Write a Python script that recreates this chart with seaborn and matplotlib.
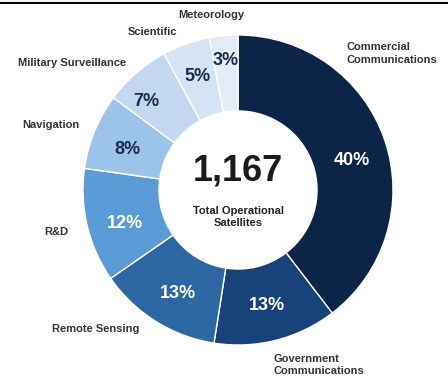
import matplotlib
matplotlib.use("Agg")
import matplotlib.pyplot as plt
import seaborn as sns
import numpy as np
from matplotlib.lines import Line2D

sns.set_theme(style="white")
plt.rcParams['font.family'] = ['Liberation Sans Narrow', 'Liberation Sans', 'DejaVu Sans']

# ---- data ----
categories = ["Commercial\nCommunications", "Government\nCommunications", "Remote Sensing",
              "R&D", "Navigation", "Military Surveillance", "Scientific", "Meteorology"]
shares = [40, 13, 13, 12, 8, 7, 5, 3]
pct_labels = ["40%", "13%", "13%", "12%", "8%", "7%", "5%", "3%"]
total_value = "1,167"
total_caption = "Total Operational\nSatellites"

# ---- style ----
colors = ["#0b2447", "#17427a", "#2c66a3", "#5a9ad6", "#9cc3ea", "#c3d8f0", "#d5e4f5", "#e3edf8"]
pct_colors = ["white", "white", "white", "white", "#1a2a4a", "#1a2a4a", "#1a2a4a", "#1a2a4a"]
pct_radius = [0.76, 0.77, 0.77, 0.76, 0.76, 0.82, 0.78, 0.84]
pct_angle_shift = [-4, 0, 2, 3, 2, 5, 0, 0]
# label anchor (x, y, ha) in pie units
label_pos = [(0.70, 0.88, "left"), (0.23, -1.13, "left"), (-0.92, -0.90, "center"),
             (-1.17, -0.27, "center"), (-1.21, 0.42, "center"), (-1.07, 0.82, "center"),
             (-0.55, 1.02, "center"), (-0.17, 1.13, "center")]

W, H = 448, 383
cx, cy, R = 238, 190, 155
fig = plt.figure(figsize=(W / 100, H / 100), dpi=100)
ax = fig.add_axes([0, 0, 1, 1])

wedges, _ = ax.pie(shares, colors=colors, startangle=90, counterclock=False,
                   radius=1.0, wedgeprops=dict(width=0.49, edgecolor="white", linewidth=1.0))
ax.set_aspect("auto")
ax.set_xlim(-cx / R, (W - cx) / R)
ax.set_ylim(-(H - cy) / R, cy / R)
ax.axis("off")

for w, lab, col, r, da in zip(wedges, pct_labels, pct_colors, pct_radius, pct_angle_shift):
    ang = np.deg2rad((w.theta1 + w.theta2) / 2 + da)
    ax.text(r * np.cos(ang), r * np.sin(ang), lab, ha="center", va="center",
            fontsize=13, fontweight="bold", color=col)

for (x, y, ha), lab in zip(label_pos, categories):
    ax.text(x, y, lab, ha=ha, va="center", fontsize=8, fontweight="bold",
            color="#333333", linespacing=1.3)

ax.text(0, 0.12, total_value, ha="center", va="center", fontsize=26,
        fontweight="bold", color="#1c1c1c")
ax.text(0, -0.175, total_caption, ha="center", va="center", fontsize=8,
        fontweight="bold", color="#222222", linespacing=1.25)

fig.add_artist(Line2D([0, 1], [1 - 2.5 / H] * 2, transform=fig.transFigure,
                      color="black", linewidth=1.5))

fig.savefig("out.png", dpi=100)
